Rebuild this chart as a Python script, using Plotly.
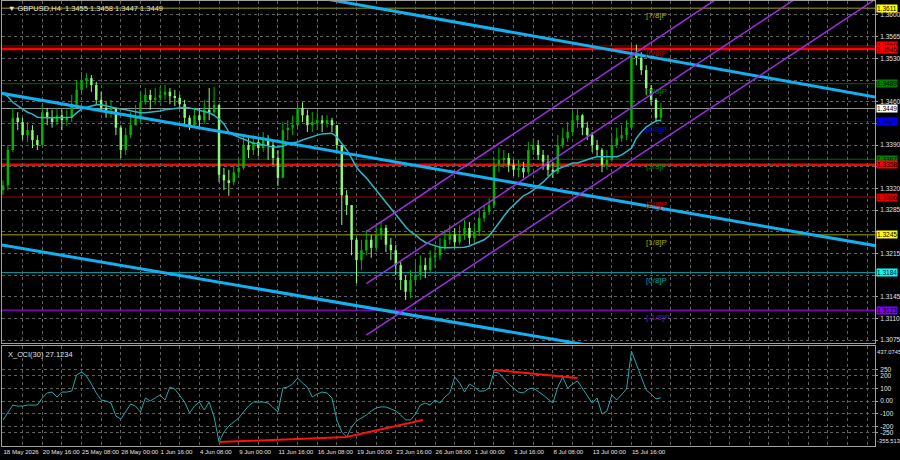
import plotly.graph_objects as go
from plotly.subplots import make_subplots

# GBPUSD H4, one bar here = two H4 candles
first_open = 1.3317
closes = [1.3325,1.3382,1.3434,1.3427,1.3406,1.3414,1.3398,1.3390,1.3443,1.3434,
          1.3427,1.3438,1.3430,1.3434,1.3455,1.3479,1.3495,1.3498,1.3487,1.3463,
          1.3450,1.3447,1.3450,1.3418,1.3382,1.3406,1.3422,1.3434,1.3459,1.3471,
          1.3463,1.3466,1.3471,1.3476,1.3469,1.3466,1.3456,1.3434,1.3422,1.3438,
          1.3430,1.3447,1.3443,1.3455,1.3342,1.3333,1.3330,1.3346,1.3353,1.3390,
          1.3382,1.3395,1.3385,1.3398,1.3390,1.3369,1.3337,1.3414,1.3418,1.3422,
          1.3450,1.3438,1.3422,1.3427,1.3430,1.3427,1.3430,1.3422,1.3390,1.3309,
          1.3293,1.3237,1.3204,1.3220,1.3237,1.3224,1.3245,1.3256,1.3229,1.3220,
          1.3196,1.3172,1.3153,1.3172,1.3180,1.3196,1.3188,1.3208,1.3212,1.3224,
          1.3237,1.3245,1.3233,1.3245,1.3256,1.3240,1.3250,1.3272,1.3282,1.3293,
          1.3358,1.3366,1.3369,1.3358,1.3350,1.3353,1.3346,1.3382,1.3390,1.3374,
          1.3363,1.3350,1.3346,1.3390,1.3401,1.3411,1.3430,1.3438,1.3418,1.3406,
          1.3390,1.3382,1.3358,1.3366,1.3390,1.3401,1.3406,1.3418,1.3535,1.3531,
          1.3511,1.3482,1.3463,1.3434,1.3449]
highs = [1.3333,1.3390,1.3450,1.3443,1.3434,1.3427,1.3422,1.3406,1.3455,1.3450,
         1.3447,1.3450,1.3447,1.3447,1.3471,1.3495,1.3508,1.3506,1.3503,1.3492,
         1.3476,1.3459,1.3463,1.3450,1.3422,1.3418,1.3443,1.3455,1.3476,1.3482,
         1.3479,1.3482,1.3484,1.3487,1.3482,1.3479,1.3472,1.3463,1.3438,1.3450,
         1.3450,1.3463,1.3482,1.3484,1.3455,1.3353,1.3350,1.3358,1.3366,1.3403,
         1.3401,1.3406,1.3401,1.3411,1.3406,1.3398,1.3382,1.3427,1.3430,1.3438,
         1.3459,1.3459,1.3447,1.3443,1.3443,1.3438,1.3438,1.3434,1.3422,1.3390,
         1.3317,1.3293,1.3240,1.3237,1.3253,1.3245,1.3261,1.3266,1.3261,1.3240,
         1.3229,1.3201,1.3180,1.3188,1.3201,1.3212,1.3208,1.3220,1.3229,1.3240,
         1.3253,1.3261,1.3256,1.3261,1.3269,1.3266,1.3262,1.3285,1.3293,1.3304,
         1.3369,1.3385,1.3382,1.3377,1.3366,1.3366,1.3363,1.3395,1.3401,1.3398,
         1.3382,1.3374,1.3363,1.3406,1.3418,1.3427,1.3443,1.3450,1.3440,1.3427,
         1.3411,1.3398,1.3385,1.3382,1.3406,1.3418,1.3422,1.3430,1.3556,1.3552,
         1.3540,1.3519,1.3487,1.3466,1.3458]
lows = [1.3309,1.3317,1.3379,1.3414,1.3398,1.3395,1.3385,1.3382,1.3390,1.3422,
        1.3418,1.3422,1.3414,1.3421,1.3427,1.3450,1.3471,1.3482,1.3476,1.3455,
        1.3443,1.3434,1.3434,1.3406,1.3369,1.3374,1.3401,1.3422,1.3427,1.3455,
        1.3447,1.3455,1.3458,1.3463,1.3456,1.3453,1.3450,1.3422,1.3414,1.3418,
        1.3419,1.3424,1.3430,1.3438,1.3330,1.3317,1.3308,1.3325,1.3337,1.3350,
        1.3369,1.3374,1.3372,1.3379,1.3366,1.3358,1.3324,1.3337,1.3398,1.3406,
        1.3418,1.3427,1.3411,1.3411,1.3414,1.3411,1.3418,1.3411,1.3379,1.3261,
        1.3277,1.3212,1.3167,1.3188,1.3212,1.3208,1.3217,1.3237,1.3217,1.3204,
        1.3180,1.3156,1.3140,1.3143,1.3164,1.3172,1.3175,1.3185,1.3191,1.3204,
        1.3220,1.3229,1.3224,1.3229,1.3237,1.3229,1.3233,1.3243,1.3266,1.3277,
        1.3288,1.3346,1.3353,1.3346,1.3340,1.3338,1.3337,1.3342,1.3374,1.3366,
        1.3350,1.3340,1.3337,1.3343,1.3385,1.3395,1.3406,1.3418,1.3406,1.3398,
        1.3379,1.3372,1.3346,1.3350,1.3363,1.3385,1.3395,1.3398,1.3414,1.3519,
        1.3503,1.3471,1.3455,1.3427,1.3427]
ma = [1.3474,1.3468,1.3459,1.3453,1.3448,1.3443,1.3440,1.3435,1.3434,1.3434,
      1.3434,1.3434,1.3434,1.3434,1.3435,1.3442,1.3448,1.3451,1.3453,1.3455,
      1.3455,1.3453,1.3451,1.3450,1.3448,1.3447,1.3445,1.3443,1.3442,1.3442,
      1.3443,1.3443,1.3445,1.3447,1.3448,1.3450,1.3451,1.3451,1.3450,1.3448,
      1.3445,1.3443,1.3442,1.3438,1.3432,1.3424,1.3411,1.3406,1.3403,1.3400,
      1.3396,1.3393,1.3392,1.3390,1.3388,1.3387,1.3387,1.3388,1.3392,1.3393,
      1.3395,1.3398,1.3401,1.3403,1.3406,1.3408,1.3409,1.3409,1.3403,1.3393,
      1.3382,1.3369,1.3354,1.3345,1.3337,1.3327,1.3317,1.3308,1.3298,1.3287,
      1.3277,1.3267,1.3258,1.3250,1.3245,1.3238,1.3233,1.3230,1.3227,1.3225,
      1.3224,1.3224,1.3224,1.3224,1.3225,1.3227,1.3230,1.3233,1.3237,1.3243,
      1.3253,1.3264,1.3275,1.3285,1.3293,1.3301,1.3308,1.3312,1.3317,1.3324,
      1.3330,1.3338,1.3346,1.3351,1.3354,1.3358,1.3361,1.3361,1.3364,1.3367,
      1.3369,1.3371,1.3371,1.3371,1.3371,1.3371,1.3374,1.3379,1.3385,1.3401,
      1.3411,1.3419,1.3424,1.3429,1.3430]
cci = [-150,-86,-31,-39,-39,-31,-31,-31,25,65,
       72,33,72,72,80,207,231,199,136,65,
       9,1,-15,-118,-142,-78,-23,-39,-86,25,
       1,25,49,9,112,96,41,-7,-94,-39,
       -7,-70,-7,-126,-324,-245,-197,-165,-134,-86,
       -39,-7,-7,-7,-15,-54,-86,104,112,136,
       183,144,112,33,57,72,65,25,-149,-245,
       -284,-205,-157,-134,-110,-78,-54,-46,-46,-62,
       -78,-110,-149,-149,-102,-31,-15,-31,9,-15,
       33,65,191,144,72,136,112,80,80,104,
       231,223,175,136,104,72,65,96,104,80,
       49,17,-15,112,191,104,136,160,104,49,
       -15,25,-102,-78,49,9,49,96,397,294,
       183,88,57,17,27.1234]

date_labels = ["18 May 2026", "20 May 16:00", "25 May 08:00", "28 May 00:00", "1 Jun 16:00",
               "4 Jun 08:00", "9 Jun 00:00", "11 Jun 16:00", "16 Jun 08:00", "19 Jun 00:00",
               "23 Jun 16:00", "26 Jun 08:00", "1 Jul 00:00", "3 Jul 16:00", "8 Jul 08:00",
               "13 Jul 00:00", "15 Jul 16:00"]

# Murrey math levels
mm_prices = [1.3611, 1.3550, 1.3489, 1.3428, 1.3367, 1.3306, 1.3245, 1.3184, 1.3123]
mm_names = ["[7/8]P", "[6/8]P", "[5/8]P", "[4/8]P", "[3/8]P", "[2/8]P", "[1/8]P", "[0/8]P", "[-1/8]P"]
sr_prices = [1.3545, 1.3358]
bid_price = 1.3449

# trend lines (bar index, price)
blue_lines = [([60, 178], [1.3634, 1.3467]),
              ([-0.6, 178], [1.3474, 1.3227]),
              ([-0.6, 130], [1.3229, 1.3052])]
purple_lines = [([74, 145], [1.3250, 1.3624]),
                ([74, 161], [1.3166, 1.3624]),
                ([74, 178], [1.3083, 1.3627])]
div_lines = [([44, 70, 85.5], [-324, -284, -149]),
             ([100, 117], [247, 183])]

price_ticks = [1.3075 + 0.0035 * k for k in range(16)]
cci_ticks = [250, 200, 100, 0, -100, -200, -250]
cci_ticktext = ["250", "200", "100", "0.00", "-100", "-200", "-250"]

# styles
mm_line_colors = ["#a0a000", "#b00000", "#006400", "#0000b0", "#006400", "#b00000", "#a0a000", "#00a0a8", "#8000b0"]
mm_text_colors = ["#a8a800", "#d00000", "#008000", "#0000ff", "#008000", "#d00000", "#a8a800", "#00a0a8", "#8000c0"]
mm_box_colors = ["#ffff00", "#ff0000", "#008000", "#0000ff", "#008000", "#e00000", "#ffff00", "#00ffff", "#8000ff"]
bull_col = "#00b400"
bear_col = "#8cf87c"
FONT = "Liberation Sans"
TXT = "#e0e0e0"

n = len(closes)
idx = list(range(n))
opens = [first_open] + closes[:-1]

fig = make_subplots(rows=2, cols=1, shared_xaxes=True)

for up, col in [(True, bull_col), (False, bear_col)]:
    sel = [i for i in idx if (closes[i] >= opens[i]) == up]
    base = [min(opens[i], closes[i]) for i in sel]
    body = [max(abs(closes[i] - opens[i]), 0.00004) for i in sel]
    fig.add_trace(go.Bar(x=sel, y=body, base=base, width=0.5, marker=dict(color=col, line=dict(width=0)),
                         showlegend=False, hoverinfo="skip"), row=1, col=1)
    wx, wy = [], []
    for i in sel:
        wx += [i, i, None]
        wy += [lows[i], highs[i], None]
    fig.add_trace(go.Scatter(x=wx, y=wy, mode="lines", line=dict(color=col, width=1),
                             showlegend=False, hoverinfo="skip"), row=1, col=1)

fig.add_trace(go.Scatter(x=idx, y=ma, mode="lines", line=dict(color="#2ab8c8", width=1.5),
                         showlegend=False, hoverinfo="skip"), row=1, col=1)

for xs, ys in blue_lines:
    fig.add_trace(go.Scatter(x=xs, y=ys, mode="lines", line=dict(color="#12b0f0", width=3),
                             showlegend=False, hoverinfo="skip"), row=1, col=1)
for xs, ys in purple_lines:
    fig.add_trace(go.Scatter(x=xs, y=ys, mode="lines", line=dict(color="#9a30e0", width=1.5),
                             showlegend=False, hoverinfo="skip"), row=1, col=1)

fig.add_trace(go.Scatter(x=idx, y=cci, mode="lines", line=dict(color="#20a8a8", width=1),
                         showlegend=False, hoverinfo="skip"), row=2, col=1)
for xs, ys in div_lines:
    fig.add_trace(go.Scatter(x=xs, y=ys, mode="lines", line=dict(color="#ff1010", width=2),
                             showlegend=False, hoverinfo="skip"), row=2, col=1)

# horizontal levels
for p, c in zip(mm_prices, mm_line_colors):
    fig.add_shape(type="line", xref="x domain", yref="y", x0=0, x1=1, y0=p, y1=p,
                  line=dict(color=c, width=1.5 if c == "#8000b0" else 1), layer="below")
for p in sr_prices:
    fig.add_shape(type="line", xref="x domain", yref="y", x0=0, x1=1, y0=p, y1=p,
                  line=dict(color="#ff0000", width=2.5), layer="below")
fig.add_shape(type="line", xref="x domain", yref="y", x0=0, x1=1, y0=bid_price, y1=bid_price,
              line=dict(color="#909090", width=1), layer="below")

ann = []
for p, name, tc in zip(mm_prices, mm_names, mm_text_colors):
    ann.append(dict(x=130.5, y=p, xref="x", yref="y", text=name, showarrow=False,
                    xanchor="left", yanchor="top", yshift=-1,
                    font=dict(family=FONT, size=8, color=tc)))

def price_box(p, bg, fg="#000000"):
    return dict(x=1, y=p, xref="paper", yref="y", text="%.4f" % p, showarrow=False,
                xanchor="left", yanchor="middle", xshift=1, bgcolor=bg, borderpad=0,
                font=dict(family=FONT, size=6.5, color=fg))

box_prices = mm_prices + sr_prices + [bid_price]
for p, bg in zip(mm_prices, mm_box_colors):
    ann.append(price_box(p, bg))
for p in sr_prices:
    ann.append(price_box(p, "#ff0000"))
ann.append(price_box(bid_price, "#ffffff"))

ann.append(dict(x=0, y=1, xref="paper", yref="paper", xanchor="left", yanchor="top", xshift=4, yshift=-1,
                text="▼ GBPUSD,H4  1.3455 1.3458 1.3447 1.3449", showarrow=False,
                font=dict(family=FONT, size=7.5, color=TXT)))
ann.append(dict(x=0, y=1, xref="paper", yref="y2 domain", xanchor="left", yanchor="top", xshift=4, yshift=-2,
                text="X_CCI(30) 27.1234", showarrow=False,
                font=dict(family=FONT, size=7.5, color=TXT)))
ann.append(dict(x=1, y=1, xref="paper", yref="y2 domain", xanchor="left", yanchor="top", xshift=0, yshift=-1,
                text="437.0745", showarrow=False, font=dict(family=FONT, size=5.8, color=TXT)))
ann.append(dict(x=1, y=0, xref="paper", yref="y2 domain", xanchor="left", yanchor="bottom", xshift=0,
                text="-355.513", showarrow=False, font=dict(family=FONT, size=5.8, color=TXT)))

grid_x = list(range(0, 180, 4))
grid_text = [date_labels[k // 8] if k % 8 == 0 and k // 8 < len(date_labels) else "" for k in grid_x]
# tick labels sitting under a price box are hidden in the terminal
price_text = ["" if min(abs(t - b) for b in box_prices) < 0.0009 else "%.4f" % t for t in price_ticks]

axis_common = dict(showgrid=True, gridcolor="#606060", griddash="dot", gridwidth=1, automargin=False,
                   showline=True, linecolor="#a0a0a0", mirror=True, zeroline=False)

fig.update_layout(
    width=900, height=460, margin=dict(l=2, r=25, t=1, b=13),
    paper_bgcolor="#000000", plot_bgcolor="#000000",
    showlegend=False, barmode="overlay", annotations=ann,
    xaxis=dict(range=[-0.2, 177.6], tickvals=grid_x, showticklabels=False, ticks="", **axis_common),
    xaxis2=dict(range=[-0.2, 177.6], tickvals=grid_x, ticktext=grid_text, ticks="", tickangle=0,
                ticklabelposition="outside right", ticklabelstandoff=0,
                tickfont=dict(family=FONT, size=6.1, color=TXT), **axis_common),
    yaxis=dict(domain=[0.2332, 1], range=[1.30703, 1.36226], side="right", tickvals=price_ticks,
               ticktext=price_text, ticks="outside", ticklen=2, tickcolor="#a0a0a0",
               ticklabelstandoff=1, tickfont=dict(family=FONT, size=6.5, color=TXT), **axis_common),
    yaxis2=dict(domain=[0.0022, 0.2265], range=[-355.513, 437.0745], side="right", tickvals=cci_ticks,
                ticktext=cci_ticktext, ticks="outside", ticklen=2, tickcolor="#a0a0a0",
                ticklabelstandoff=1, tickfont=dict(family=FONT, size=6.5, color=TXT), **axis_common),
)

# the page's default body margin would shift the chart, so drop it
fig.write_html("out.html", config={"displayModeBar": False},
               post_script="document.body.style.margin='0px';")
